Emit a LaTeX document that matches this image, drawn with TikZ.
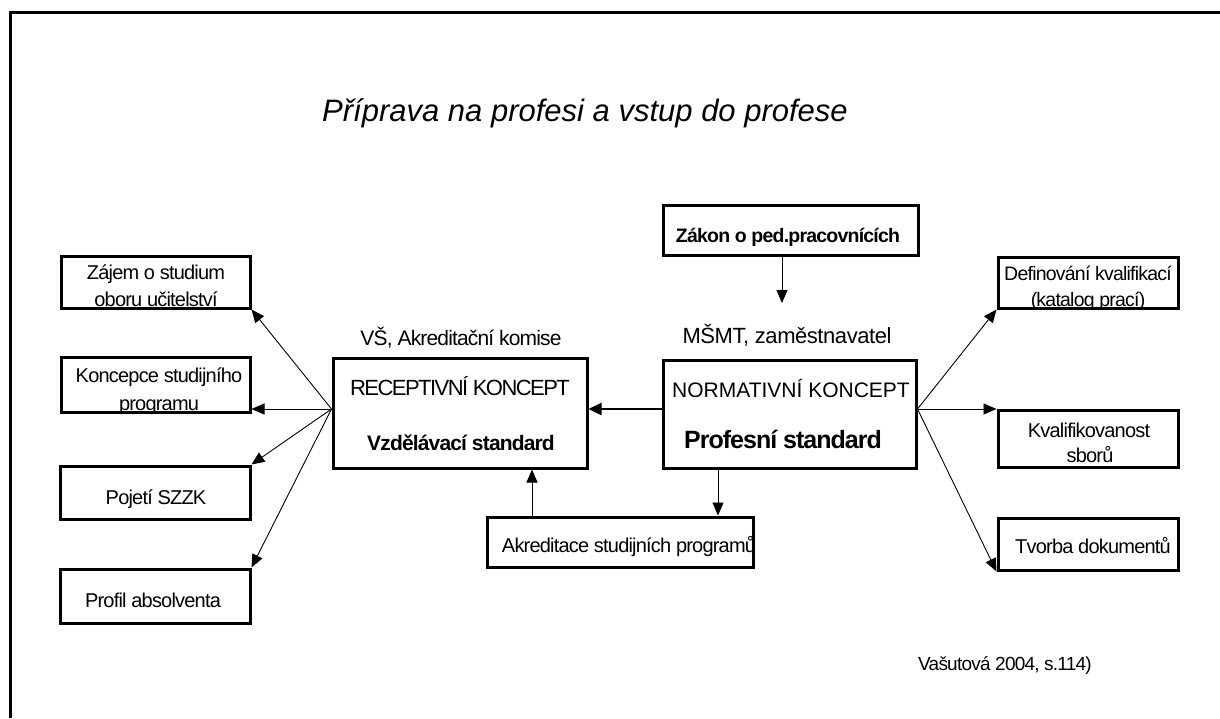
\documentclass[tikz,border=0pt]{standalone}
\usepackage{fontspec}
\setmainfont{Liberation Sans}[LetterSpace=-4]
\usetikzlibrary{arrows.meta}
\newcommand{\fs}[1]{\fontsize{#1}{#1}\selectfont}
\begin{document}
\begin{tikzpicture}[x=1pt,y=-1pt,
  box/.style={draw, line width=3pt, inner sep=0pt},
  txt/.style={anchor=base, inner sep=0pt, font=\fs{20}},
  arr/.style={line width=0.9pt, -{Triangle[length=13pt,width=11pt]}},
  thickarr/.style={line width=2.4pt, -{Triangle[length=13pt,width=12pt]}}
]
\useasboundingbox (0,0) rectangle (1220,718);
% frame
\draw[line width=3pt] (10,718) -- (10,12) -- (1220,12);
% title
\node[anchor=base, inner sep=0pt, font=\fs{31}\itshape\addfontfeature{LetterSpace=0}] (title) at (585,121) {Příprava na profesi a vstup do profese};

% left boxes
\node[box, minimum width=189pt, minimum height=52pt] (b1) at (155.5,282) {};
\node[box, minimum width=189pt, minimum height=55pt] (b2) at (155.5,384.5) {};
\node[box, minimum width=190pt, minimum height=53pt] (b3) at (155,492.5) {};
\node[box, minimum width=190pt, minimum height=54pt] (b4) at (155,596) {};
\node[txt] (b1a) at (156,279) {Zájem o studium};
\node[txt] (b1b) at (156,306) {oboru učitelství};
\node[txt] (b2a) at (159,382) {Koncepce studijního};
\node[txt] (b2b) at (159,410) {programu};
\node[txt] (b3a) at (156,504) {Pojetí SZZK};
\node[txt] (b4a) at (153,607) {Profil absolventa};

% central boxes
\node[box, minimum width=254pt, minimum height=110pt] (rec) at (460,413) {};
\node[txt, font=\fs{22}\addfontfeature{LetterSpace=-7}] (reca) at (460,395) {RECEPTIVNÍ KONCEPT};
\node[txt, font=\fs{21}\bfseries] (recb) at (461,450) {Vzdělávací standard};
\node[txt, font=\fs{21}] (recl) at (461,345) {VŠ, Akreditační komise};

\node[box, minimum width=253pt, minimum height=108pt] (norm) at (789.5,414) {};
\node[txt, font=\fs{21}\addfontfeature{LetterSpace=0}] (norma) at (791,397) {NORMATIVNÍ KONCEPT};
\node[txt, font=\fs{25}\bfseries] (normb) at (783,448) {Profesní standard};
\node[txt, font=\fs{22}\addfontfeature{LetterSpace=-2}] (norml) at (787,343) {MŠMT, zaměstnavatel};

\node[box, minimum width=255pt, minimum height=50pt] (zak) at (790.5,230) {};
\node[txt, font=\fs{19.5}\bfseries] (zaka) at (788,242) {Zákon o ped.pracovnících};

\node[box, minimum width=266pt, minimum height=50pt] (akr) at (620,542) {};
\node[txt] (akra) at (629,552) {Akreditace studijních programů};

% right boxes
\node[box, minimum width=180pt, minimum height=51pt] (def) at (1088,282.5) {};
\node[box, minimum width=180pt, minimum height=57pt] (kval) at (1088,438.5) {};
\node[box, minimum width=180pt, minimum height=52pt] (tvo) at (1088,544) {};
\node[txt, font=\fs{19.5}] (defa) at (1088,280) {Definování kvalifikací};
\node[txt, font=\fs{19.5}] (defb) at (1088,306) {(katalog prací)};
\node[txt] (kvala) at (1089,437) {Kvalifikovanost};
\node[txt] (kvalb) at (1090,462) {sborů};
\node[txt] (tvoa) at (1093,553) {Tvorba dokumentů};

% source
\node[txt, font=\fs{19}] (src) at (1005,670) {Vašutová 2004, s.114)};

% connectors
\coordinate (rl) at (rec.west |- 0,409);
\coordinate (nr) at (norm.east |- 0,409);
\draw[thickarr] (norm.west |- rl) -- (rec.east |- rl);
\draw[arr] (rl) -- (b1.south east);
\draw[arr] (rl) -- (rl -| b2.east);
\draw[arr] (rl) -- (b3.north east);
\draw[arr] (rl) -- (b4.north east);
\draw[arr] (nr) -- (def.south west);
\draw[arr] (nr) -- (nr -| kval.west);
\draw[arr] (nr) -- (tvo.south west);

\coordinate (zt) at (782,303);
\draw[arr] (zak.south -| zt) -- (zt);
\coordinate (au) at (532,0);
\coordinate (ad) at (718,0);
\draw[arr] (au |- akr.north) -- (au |- rec.south);
\draw[arr] (ad |- norm.south) -- (ad |- akr.north);
\end{tikzpicture}
\end{document}
